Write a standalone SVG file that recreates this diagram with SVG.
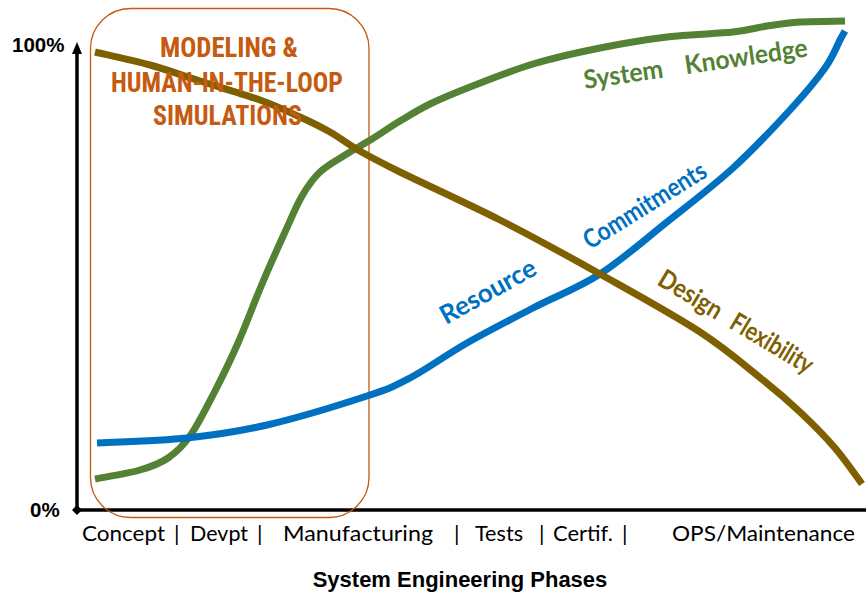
<svg xmlns="http://www.w3.org/2000/svg" width="867" height="594" viewBox="0 0 867 594">
<style>
.curve{fill:none;stroke-width:7;stroke-linecap:butt;stroke-linejoin:round}
.ax{font-family:"Lato","Open Sans","Liberation Sans",sans-serif;font-size:22px;fill:#000}
.lbl{font-family:"Lato","Open Sans","Liberation Sans",sans-serif;font-weight:bold;font-size:26px}
.pct{font-family:"Liberation Sans",Arial,sans-serif;font-weight:bold;font-size:20.5px;fill:#000}
.ttl{font-family:"Liberation Sans Narrow","Roboto Condensed","Liberation Sans",sans-serif;font-weight:bold;font-size:28px;fill:#C55A11;text-anchor:middle}
</style>
<rect width="867" height="594" fill="#fff"/>
<g id="axes">
<line x1="77" y1="52" x2="77" y2="510" stroke="#000" stroke-width="3.5"/>
<polygon points="77,42 72,54 82,54" fill="#000"/>
<polygon points="72,510 77,505 82,510 77,515" fill="#000"/>
<line x1="77" y1="510" x2="866" y2="510" stroke="#000" stroke-width="3.5"/>
<text class="pct" x="12" y="52">100%</text>
<text class="pct" x="30" y="517">0%</text>
</g>
<g id="modeling-box">
<rect x="90.5" y="8.5" width="278.5" height="509" rx="40" ry="40" fill="none" stroke="#C55A11" stroke-width="1.3"/>
</g>
<g id="curves">
<path id="knowledge" class="curve" stroke="#548235" d="M95,479 C102.5,477.5 127.8,473.5 140,470 C152.2,466.5 159.7,463.7 168,458 C176.3,452.3 182.3,446.8 190,436 C197.7,425.2 206,408.5 214,393 C222,377.5 230,361.2 238,343 C246,324.8 254.2,302.5 262,284 C269.8,265.5 278.3,246.7 285,232 C291.7,217.3 296.2,206 302,196 C307.8,186 312.8,178.8 320,172 C327.2,165.2 336.3,160.5 345,155 C353.7,149.5 362.8,144.7 372,139 C381.2,133.3 390.3,126.8 400,121 C409.7,115.2 418.3,109.7 430,104 C441.7,98.3 452.8,93.7 470,87 C487.2,80.3 511.3,70.5 533,64 C554.7,57.5 577.7,52.5 600,48 C622.3,43.5 644.8,39.7 667,37 C689.2,34.3 716.3,33.8 733,32 C749.7,30.2 755.8,27.7 767,26 C778.2,24.3 787,22.8 800,22 C813,21.2 837.5,21.2 845,21"/>
<path id="resource" class="curve" stroke="#0070C0" d="M97,443 C112,442.2 158.7,441 187,438 C215.3,435 237,432 267,425 C297,418 343.2,403.8 367,396 C390.8,388.2 393.3,386.8 410,378 C426.7,369.2 446.5,354.7 467,343 C487.5,331.3 510.8,319.5 533,308 C555.2,296.5 577.7,288.3 600,274 C622.3,259.7 644.8,239.7 667,222 C689.2,204.3 712.5,186.7 733,168 C753.5,149.3 774.7,126.7 790,110 C805.3,93.3 816.7,79.7 825,68 C833.3,56.3 836.7,46.2 840,40 C843.3,33.8 844.2,32.5 845,31"/>
<path id="flexibility" class="curve" stroke="#7F6000" stroke-linecap="round" d="M95,52 C104.2,54.2 132.5,60.2 150,65 C167.5,69.8 181.7,75.2 200,81 C218.3,86.8 243.3,94 260,100 C276.7,106 288.3,111.7 300,117 C311.7,122.3 320.3,126.5 330,132 C339.7,137.5 346.3,143.3 358,150 C369.7,156.7 376.3,160.3 400,172 C423.7,183.7 466.7,203 500,220 C533.3,237 566.7,255.3 600,274 C633.3,292.7 672.8,314.3 700,332 C727.2,349.7 746.3,366.7 763,380 C779.7,393.3 788,400.7 800,412 C812,423.3 824.7,436 835,448 C845.3,460 857.5,478 862,484"/>
</g>
<g id="title">
<text class="ttl" x="229" y="57" textLength="138" lengthAdjust="spacingAndGlyphs">MODELING &amp;</text>
<text class="ttl" x="227" y="92" textLength="232" lengthAdjust="spacingAndGlyphs">HUMAN-IN-THE-LOOP</text>
<text class="ttl" x="227.5" y="125" textLength="149" lengthAdjust="spacingAndGlyphs">SIMULATIONS</text>
</g>
<g id="curve-labels">
<text class="lbl" fill="#548235" transform="translate(585,89) rotate(-8.3)"><tspan x="0" y="0" textLength="80" lengthAdjust="spacingAndGlyphs">System</tspan><tspan x="102" y="0" textLength="124" lengthAdjust="spacingAndGlyphs">Knowledge</tspan></text>
<text class="lbl" fill="#0070C0" transform="translate(446,325) rotate(-29)" textLength="106" lengthAdjust="spacingAndGlyphs">Resource</text>
<text class="lbl" fill="#0070C0" transform="translate(590,250) rotate(-32)" textLength="140" lengthAdjust="spacingAndGlyphs">Commitments</text>
<text class="lbl" fill="#7F6000" transform="translate(656,284) rotate(31)"><tspan x="0" y="0" textLength="70" lengthAdjust="spacingAndGlyphs">Design</tspan><tspan x="84" y="0" textLength="92" lengthAdjust="spacingAndGlyphs">Flexibility</tspan></text>
</g>
<g id="phases">
<text class="ax" x="82" y="541" textLength="83" lengthAdjust="spacingAndGlyphs">Concept</text>
<text class="ax" x="174" y="541">|</text>
<text class="ax" x="190" y="541" textLength="58" lengthAdjust="spacingAndGlyphs">Devpt</text>
<text class="ax" x="257" y="541">|</text>
<text class="ax" x="283" y="541" textLength="150" lengthAdjust="spacingAndGlyphs">Manufacturing</text>
<text class="ax" x="454" y="541">|</text>
<text class="ax" x="475" y="541" textLength="48" lengthAdjust="spacingAndGlyphs">Tests</text>
<text class="ax" x="539" y="541">|</text>
<text class="ax" x="553" y="541" textLength="60" lengthAdjust="spacingAndGlyphs">Certif.</text>
<text class="ax" x="622" y="541">|</text>
<text class="ax" x="672" y="541" textLength="183" lengthAdjust="spacingAndGlyphs">OPS/Maintenance</text>
<text x="460" y="587" text-anchor="middle" font-family="Liberation Sans, Arial, sans-serif" font-weight="bold" font-size="22">System Engineering Phases</text>
</g>
</svg>
